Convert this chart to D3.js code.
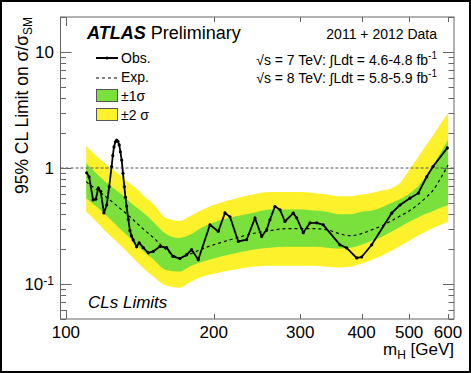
<!DOCTYPE html>
<html>
<head>
<meta charset="utf-8">
<script src="https://cdn.jsdelivr.net/npm/d3@7/dist/d3.min.js"></script>
<style>
  body { margin: 0; background: #fff; }
  svg text { font-family: "Liberation Sans", Arial, Helvetica, sans-serif; fill: #000; }
</style>
</head>
<body>
<div id="chart"></div>
<script>
// expected limit + bands, on a common mass grid (GeV)
var bandMass = [110,115,120,125,130,135,140,145,150,160,170,180,190,200,220,240,260,280,300,320,340,360,380,400,420,440,460,480,500,520,540,560,580,600];
var yellowLo = [0.42,0.35,0.29,0.246,0.21,0.179,0.153,0.133,0.118,0.097,0.093,0.105,0.116,0.123,0.133,0.141,0.144,0.144,0.144,0.144,0.141,0.139,0.141,0.150,0.162,0.176,0.194,0.214,0.236,0.261,0.282,0.305,0.324,0.344];
var greenLo  = [0.55,0.47,0.40,0.34,0.29,0.25,0.214,0.186,0.166,0.132,0.128,0.144,0.156,0.166,0.183,0.198,0.206,0.21,0.21,0.21,0.206,0.202,0.206,0.218,0.236,0.256,0.282,0.312,0.344,0.372,0.403,0.427,0.454,0.481];
var expLimit = [0.76,0.66,0.575,0.50,0.436,0.38,0.33,0.288,0.256,0.198,0.169,0.183,0.202,0.218,0.246,0.272,0.288,0.30,0.30,0.30,0.294,0.272,0.261,0.272,0.294,0.318,0.351,0.387,0.427,0.481,0.553,0.647,0.82,1.06];
var greenHi  = [1.10,0.91,0.77,0.67,0.59,0.51,0.45,0.40,0.35,0.27,0.25,0.27,0.31,0.34,0.38,0.41,0.44,0.44,0.44,0.43,0.42,0.40,0.40,0.42,0.43,0.46,0.50,0.54,0.60,0.69,0.84,1.06,1.37,1.74];
var yellowHi = [1.55,1.29,1.10,0.96,0.84,0.73,0.65,0.56,0.50,0.37,0.35,0.39,0.44,0.48,0.54,0.59,0.62,0.62,0.62,0.61,0.59,0.57,0.57,0.59,0.61,0.64,0.67,0.75,0.96,1.22,1.55,1.92,2.43,2.97];

// observed limit
var obsMass  = [110.2,111.5,113.6,115.1,116.4,117.7,119.5,121.1,122.5,123.9,124.6,125.3,126.1,126.9,127.6,128.4,129.1,129.9,130.7,131.5,132.2,132.9,134,135,136,137.1,139.3,141,143.7,147.1,150.6,155.4,160.4,165.2,170.7,176.2,180.3,186,196.5,204.3,210.8,215.8,224.4,233.3,242.7,250.4,256.4,260.3,266.5,272.9,279.3,290.4,295.1,304.3,314.1,324.1,334.2,361.4,373,390.9,400.1,419.5,460.6,478.9,501.8,521.9,542.8,559.2,597.9];
var obsLimit = [0.91,0.84,0.53,0.54,0.67,0.63,0.41,0.48,0.69,1.03,1.28,1.52,1.68,1.74,1.70,1.58,1.38,1.17,0.9,0.69,0.56,0.47,0.36,0.29,0.26,0.24,0.21,0.227,0.206,0.186,0.191,0.211,0.206,0.173,0.166,0.179,0.198,0.162,0.324,0.284,0.41,0.38,0.233,0.241,0.37,0.257,0.294,0.358,0.466,0.436,0.346,0.408,0.372,0.277,0.337,0.337,0.324,0.218,0.205,0.168,0.171,0.218,0.408,0.48,0.55,0.607,0.84,1.03,1.49];

var xTicks = [100,200,300,400,500,600];

var W = 471, H = 373;
var mLeft = 60.5, mRight = 454, mTop = 17, mBottom = 319;

var svg = d3.select("#chart").append("svg")
    .attr("width", W)
    .attr("height", H);

// outer black border
svg.append("rect")
    .attr("x", 1).attr("y", 1)
    .attr("width", W - 2).attr("height", H - 2)
    .attr("fill", "none")
    .attr("stroke", "#000")
    .attr("stroke-width", 2);

var x = d3.scaleLog().domain([97.5, 617]).range([mLeft, mRight]);
var y = d3.scaleLog().domain([0.05, 20]).range([mBottom, mTop]);

var bands = bandMass.map(function(m, i) {
  return {m: m, y2lo: yellowLo[i], y1lo: greenLo[i], e: expLimit[i], y1hi: greenHi[i], y2hi: yellowHi[i]};
});

var area2 = d3.area()
    .x(function(d) { return x(d.m); })
    .y0(function(d) { return y(d.y2lo); })
    .y1(function(d) { return y(d.y2hi); })
    .curve(d3.curveMonotoneX);
var area1 = d3.area()
    .x(function(d) { return x(d.m); })
    .y0(function(d) { return y(d.y1lo); })
    .y1(function(d) { return y(d.y1hi); })
    .curve(d3.curveMonotoneX);

svg.append("path").datum(bands).attr("d", area2).attr("fill", "#fdf12c");
svg.append("path").datum(bands).attr("d", area1).attr("fill", "#79e03c");

// line at 1
svg.append("line")
    .attr("x1", mLeft).attr("x2", mRight)
    .attr("y1", y(1)).attr("y2", y(1))
    .attr("stroke", "#555").attr("stroke-width", 1)
    .attr("stroke-dasharray", "3,2");

// expected
var expLine = d3.line()
    .x(function(d) { return x(d.m); })
    .y(function(d) { return y(d.e); })
    .curve(d3.curveMonotoneX);
svg.append("path").datum(bands).attr("d", expLine)
    .attr("fill", "none").attr("stroke", "#000")
    .attr("stroke-width", 1.2).attr("stroke-dasharray", "3,3");

// observed
var obs = obsMass.map(function(m, i) { return {m: m, v: obsLimit[i]}; });
var obsLine = d3.line()
    .x(function(d) { return x(d.m); })
    .y(function(d) { return y(d.v); });
svg.append("path").datum(obs).attr("d", obsLine)
    .attr("fill", "none").attr("stroke", "#000").attr("stroke-width", 1.8);
svg.selectAll("circle.obs").data(obs).enter().append("circle")
    .attr("class", "obs")
    .attr("cx", function(d) { return x(d.m); })
    .attr("cy", function(d) { return y(d.v); })
    .attr("r", 1.6).attr("fill", "#000");

// frame
svg.append("rect")
    .attr("x", mLeft).attr("y", mTop)
    .attr("width", mRight - mLeft).attr("height", mBottom - mTop)
    .attr("fill", "none").attr("stroke", "#666").attr("stroke-width", 1);

// x ticks (bottom + top)
var g = svg.append("g").attr("stroke", "#666").attr("stroke-width", 1);
xTicks.forEach(function(t) {
  var len = t === 100 ? 9 : 5;
  var px = Math.round(x(t)) + 0.5;
  g.append("line").attr("x1", px).attr("x2", px).attr("y1", mBottom).attr("y2", mBottom - len);
  g.append("line").attr("x1", px).attr("x2", px).attr("y1", mTop).attr("y2", mTop + len);
});
svg.selectAll("text.xt").data(xTicks).enter().append("text")
    .attr("class", "xt")
    .attr("x", function(d) { return x(d); })
    .attr("y", 338)
    .attr("text-anchor", "middle")
    .attr("font-size", 17)
    .text(function(d) { return d; });

// y ticks (left + right)
var yMinor = [];
[0.01, 0.1, 1, 10].forEach(function(dec) {
  for (var k = 1; k <= 9; k++) {
    var v = k * dec;
    if (v >= 0.05 && v <= 20.001) yMinor.push({v: v, major: k === 1});
  }
});
yMinor.forEach(function(t) {
  var len = t.major ? 11 : 5.5;
  var py = Math.round(y(t.v)) + 0.5;
  g.append("line").attr("x1", mLeft).attr("x2", mLeft + len).attr("y1", py).attr("y2", py);
  g.append("line").attr("x1", mRight).attr("x2", mRight - len).attr("y1", py).attr("y2", py);
});

var ylab = svg.append("g").attr("font-size", 17).attr("text-anchor", "end");
ylab.append("text").attr("x", 54).attr("y", y(10)).attr("dy", "0.35em").text("10");
ylab.append("text").attr("x", 54).attr("y", y(1)).attr("dy", "0.35em").text("1");
var tm = ylab.append("text").attr("x", 54).attr("y", y(0.1)).attr("dy", "0.35em");
tm.append("tspan").text("10");
tm.append("tspan").attr("dy", "-0.45em").attr("font-size", 12).text("-1");

// axis titles
var xt = svg.append("text")
    .attr("x", 454).attr("y", 355)
    .attr("text-anchor", "end")
    .attr("font-size", 17);
xt.append("tspan").text("m");
xt.append("tspan").attr("font-size", 12).attr("dy", 4).text("H");
xt.append("tspan").attr("dy", -4).text(" [GeV]");

var yt = svg.append("text")
    .attr("transform", "translate(28,17) rotate(-90)")
    .attr("text-anchor", "end")
    .attr("font-size", 17.5);
yt.append("tspan").text("95% CL Limit on \u03c3/\u03c3");
yt.append("tspan").attr("font-size", 12).attr("dy", 4).text("SM");

// labels
var atl = svg.append("text").attr("x", 87).attr("y", 39).attr("font-size", 18);
atl.append("tspan").attr("font-weight", "bold").attr("font-style", "italic").text("ATLAS");
atl.append("tspan").text(" Preliminary");

svg.append("text").attr("x", 437).attr("y", 39).attr("text-anchor", "end")
    .attr("font-size", 14).text("2011 + 2012 Data");

var l1 = svg.append("text").attr("x", 437).attr("y", 65).attr("text-anchor", "end").attr("font-size", 14);
l1.append("tspan").text("\u221as = 7 TeV: \u222bLdt = 4.6-4.8 fb");
l1.append("tspan").attr("dy", -6).attr("font-size", 10).text("-1");
var l2 = svg.append("text").attr("x", 437).attr("y", 83).attr("text-anchor", "end").attr("font-size", 14);
l2.append("tspan").text("\u221as = 8 TeV: \u222bLdt = 5.8-5.9 fb");
l2.append("tspan").attr("dy", -6).attr("font-size", 10).text("-1");

svg.append("text").attr("x", 88).attr("y", 308)
    .attr("font-size", 17).attr("font-style", "italic").text("CLs Limits");

// legend
var lg = svg.append("g");
lg.append("line").attr("x1", 96).attr("x2", 118).attr("y1", 58).attr("y2", 58)
    .attr("stroke", "#000").attr("stroke-width", 2);
lg.append("circle").attr("cx", 107).attr("cy", 58).attr("r", 1.6);
lg.append("line").attr("x1", 96).attr("x2", 118).attr("y1", 78).attr("y2", 78)
    .attr("stroke", "#000").attr("stroke-width", 1.2).attr("stroke-dasharray", "3,3");
lg.append("rect").attr("x", 96.5).attr("y", 89.5).attr("width", 21).attr("height", 12)
    .attr("fill", "#79e03c").attr("stroke", "#555");
lg.append("rect").attr("x", 96.5).attr("y", 108.5).attr("width", 21).attr("height", 12)
    .attr("fill", "#fdf12c").attr("stroke", "#555");
lg.append("text").attr("x", 121).attr("y", 63).attr("font-size", 14).text("Obs.");
lg.append("text").attr("x", 121).attr("y", 82).attr("font-size", 14).text("Exp.");
lg.append("text").attr("x", 121).attr("y", 101).attr("font-size", 14).text("\u00b11\u03c3");
lg.append("text").attr("x", 121).attr("y", 120).attr("font-size", 14).text("\u00b12 \u03c3");
</script>
</body>
</html>
